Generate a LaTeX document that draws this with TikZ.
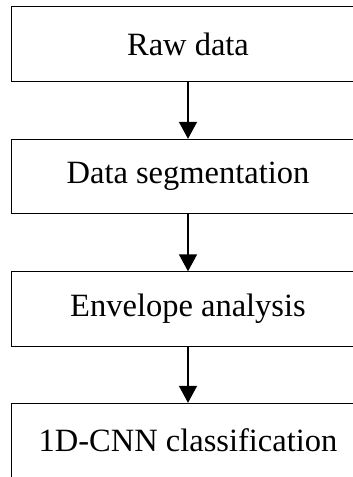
\documentclass[tikz,border=0pt]{standalone}
\usepackage{fontspec}
\setmainfont{Liberation Serif}
\usetikzlibrary{arrows.meta}
\begin{document}
\begin{tikzpicture}[x=1pt,y=1pt,
  stepbox/.style={draw=black, line width=0.9pt, minimum width=354pt, minimum height=74.5pt, inner sep=0pt, font=\fontsize{32.5}{38}\selectfont},
  flow/.style={line width=1.6pt, -{Triangle[length=17pt,width=18pt]}}]
\useasboundingbox (0,0) rectangle (353,-477);
\clip (0,0) rectangle (353,-477);
\fill[white] (0,0) rectangle (353,-477);
\node[stepbox] (a) at (188,-44) {Raw data};
\node[stepbox] (b) at (188,-176.5) {Data segmentation};
\node[stepbox] (c) at (188,-309) {Envelope analysis};
\node[stepbox] (d) at (188,-440.5) {1D-CNN classification};
\draw[flow] (a) -- (b);
\draw[flow] (b) -- (c);
\draw[flow] (c) -- (d);
\end{tikzpicture}
\end{document}
